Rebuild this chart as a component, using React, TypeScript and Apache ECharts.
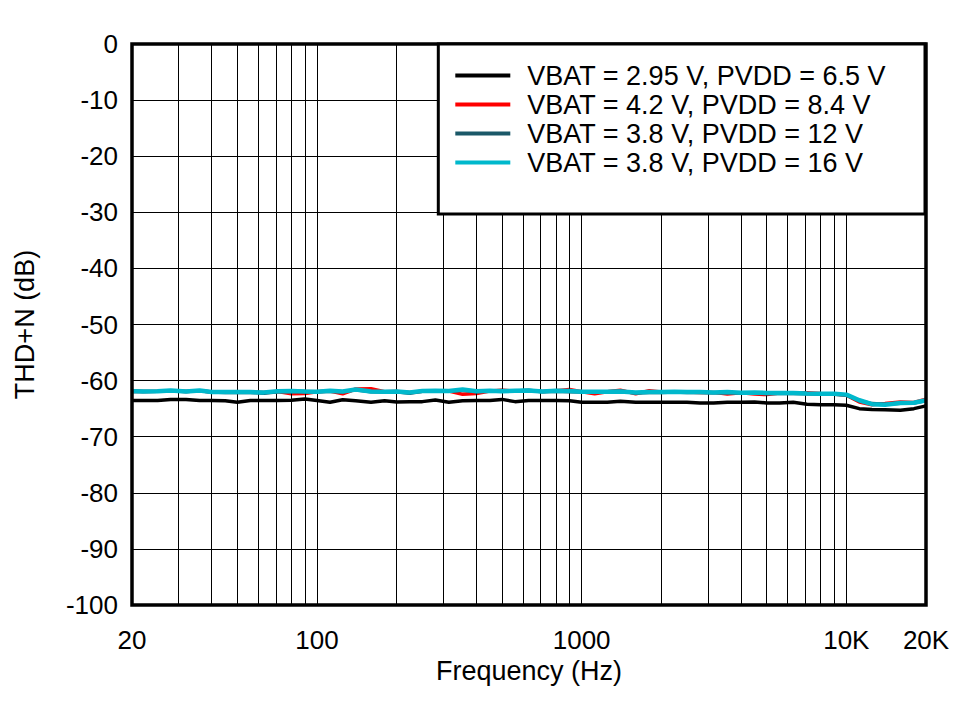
import React, { useEffect, useRef } from "react";
import * as echarts from "echarts";

const freqs = [20, 22, 25, 28, 32, 36, 40, 45, 50, 56, 63, 71, 80, 90, 100, 112, 125, 140, 160, 180, 200, 224, 250, 280, 315, 355, 400, 450, 500, 560, 630, 710, 800, 900, 1000, 1120, 1250, 1400, 1600, 1800, 2000, 2240, 2500, 2800, 3150, 3550, 4000, 4500, 5000, 5600, 6300, 7100, 8000, 9000, 10000, 11200, 12500, 14000, 16000, 18000, 20000];

const seriesNames = [
  "VBAT = 2.95 V, PVDD = 6.5 V",
  "VBAT = 4.2 V, PVDD = 8.4 V",
  "VBAT = 3.8 V, PVDD = 12 V",
  "VBAT = 3.8 V, PVDD = 16 V",
];
const seriesColors = ["#000000", "#ff0000", "#1a5868", "#00b8cc"];

const thdBlack = [
  -63.55, -63.55, -63.55, -63.35, -63.35, -63.55, -63.55, -63.6, -63.85, -63.55,
  -63.55, -63.55, -63.5, -63.3, -63.55, -63.85, -63.4, -63.6, -63.85, -63.6,
  -63.8, -63.75, -63.75, -63.45, -63.85, -63.6, -63.55, -63.55, -63.35, -63.75,
  -63.55, -63.55, -63.55, -63.6, -63.85, -63.85, -63.85, -63.7, -63.85, -63.85,
  -63.85, -63.85, -63.85, -64.0, -64.0, -63.85, -63.85, -63.8, -64.0, -64.0,
  -63.85, -64.2, -64.3, -64.3, -64.4, -65.0, -65.15, -65.2, -65.3, -65.0,
  -64.5,
];

const thdRed = [
  -61.95, -61.95, -61.9, -61.8, -61.95, -61.8, -62.05, -62.05, -62.05, -62.05,
  -62.1, -61.95, -62.35, -62.3, -62.0, -61.85, -62.35, -61.5, -61.45, -62.0,
  -61.95, -62.1, -61.9, -61.8, -61.85, -62.45, -62.3, -61.85, -61.7, -61.9,
  -61.8, -61.95, -61.8, -61.6, -62.0, -62.35, -62.0, -61.7, -62.35, -61.8,
  -62.05, -62.0, -62.05, -62.1, -62.1, -62.4, -62.15, -62.4, -62.5, -62.2,
  -62.2, -62.15, -62.3, -62.4, -62.6, -63.8, -64.3, -64.1, -63.8, -63.9,
  -63.3,
];

const thdTeal = [
  -61.8, -61.95, -61.9, -61.8, -61.95, -61.8, -62.05, -62.1, -62.1, -62.1,
  -62.25, -62.0, -61.9, -61.95, -62.0, -61.9, -62.0, -61.65, -62.0, -62.05,
  -62.0, -62.25, -61.9, -61.85, -61.9, -61.7, -61.95, -61.85, -61.75, -61.85,
  -61.7, -62.0, -61.9, -62.0, -62.05, -62.05, -62.0, -61.85, -62.2, -62.1,
  -62.1, -62.05, -62.1, -62.1, -62.15, -62.1, -62.2, -62.25, -62.3, -62.25,
  -62.3, -62.35, -62.45, -62.45, -62.55, -63.6, -64.1, -64.2, -64.05, -64.0,
  -63.55,
];

const thdCyan = [
  -61.9, -61.95, -61.9, -61.75, -61.95, -61.75, -62.05, -62.05, -62.05, -62.05,
  -62.1, -61.9, -61.85, -61.95, -62.0, -61.8, -61.95, -61.6, -61.95, -62.0,
  -61.95, -62.1, -61.85, -61.8, -61.85, -61.6, -61.9, -61.8, -61.9, -61.8,
  -61.75, -61.95, -61.8, -61.85, -62.0, -62.0, -62.0, -61.95, -62.1, -62.05,
  -62.05, -62.0, -62.05, -62.05, -62.1, -62.05, -62.15, -62.1, -62.2, -62.2,
  -62.2, -62.3, -62.35, -62.35, -62.5, -63.5, -64.2, -64.3, -64.0, -63.95,
  -63.5,
];

const minorGridFreqs = [30, 40, 50, 60, 70, 80, 90, 200, 300, 400, 500, 600, 700, 800, 900, 2000, 3000, 4000, 5000, 6000, 7000, 8000, 9000];

const FONT = "'Liberation Sans', Arial, sans-serif";

export default function App() {
  const ref = useRef<HTMLDivElement>(null);
  useEffect(() => {
    if (!ref.current) return;
    const chart = echarts.init(ref.current, null, { renderer: "svg" });
    const allData = [thdBlack, thdRed, thdTeal, thdCyan];
    const lineSeries = allData.map((vals, i) => ({
      name: seriesNames[i],
      type: "line",
      data: freqs.map((f, j) => [f, vals[j]]),
      showSymbol: false,
      symbol: "none",
      smooth: false,
      lineStyle: { color: seriesColors[i], width: i === 3 ? 4.5 : 3.5 },
      itemStyle: { color: seriesColors[i] },
      z: 3 + i,
    }));
    chart.setOption({
      animation: false,
      backgroundColor: "#ffffff",
      textStyle: { fontFamily: FONT },
      grid: {
        left: 132,
        right: 28,
        top: 44,
        bottom: 96,
        show: true,
        borderColor: "#000",
        borderWidth: 3.5,
        backgroundColor: "transparent",
        z: 10,
      },
      legend: {
        data: seriesNames,
        orient: "vertical",
        right: 29,
        top: 44,
        backgroundColor: "#ffffff",
        borderColor: "#000",
        borderWidth: 3,
        padding: [18, 39, 38, 17],
        icon: "rect",
        itemWidth: 55,
        itemHeight: 4,
        itemGap: 2,
        itemTextGap: 5,
        textStyle: { fontFamily: FONT, fontSize: 27, color: "#000", padding: [0, 0, 0, 12] },
        z: 20,
      },
      xAxis: {
        type: "log",
        logBase: 10,
        min: 20,
        max: 20000,
        name: "Frequency (Hz)",
        nameLocation: "middle",
        nameGap: 52,
        nameTextStyle: { fontFamily: FONT, fontSize: 27, color: "#000" },
        axisLine: { show: false },
        axisTick: { show: false },
        axisLabel: {
          fontFamily: FONT,
          fontSize: 26,
          color: "#000",
          margin: 22,
          showMinLabel: true,
          showMaxLabel: true,
          formatter: (v: number) => {
            const r = Math.round(v);
            return r >= 10000 ? Math.round(r / 1000) + "K" : String(r);
          },
        },
        splitLine: { show: true, lineStyle: { color: "#000", width: 1 } },
      },
      yAxis: {
        type: "value",
        min: -100,
        max: 0,
        interval: 10,
        name: "THD+N (dB)",
        nameLocation: "middle",
        nameGap: 94,
        nameRotate: 90,
        nameTextStyle: { fontFamily: FONT, fontSize: 27, color: "#000" },
        axisLine: { show: false },
        axisTick: { show: false },
        axisLabel: { fontFamily: FONT, fontSize: 26, color: "#000", margin: 14 },
        splitLine: { show: true, lineStyle: { color: "#000", width: 1 } },
      },
      series: [
        {
          name: "gridlines",
          type: "line",
          data: [],
          silent: true,
          z: 1,
          markLine: {
            silent: true,
            symbol: "none",
            label: { show: false },
            lineStyle: { color: "#000", width: 1, type: "solid" },
            data: minorGridFreqs.map((f) => ({ xAxis: f })),
          },
        },
        ...lineSeries,
      ],
    });
    return () => chart.dispose();
  }, []);
  return (
    <div
      ref={ref}
      style={{ position: "fixed", left: 0, top: 0, width: 954, height: 701, background: "#fff" }}
    />
  );
}
